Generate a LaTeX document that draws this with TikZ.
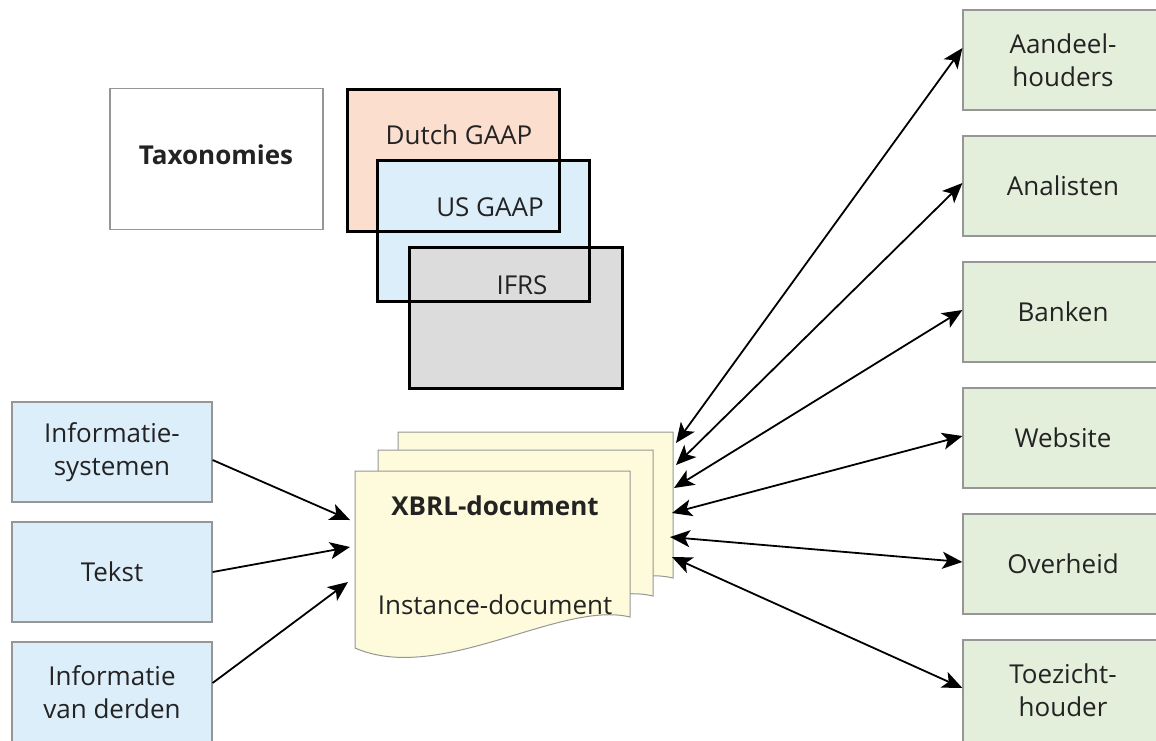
\documentclass[tikz,border=0pt]{standalone}
\usepackage{fontspec}
\setmainfont{Open Sans}
\usetikzlibrary{arrows.meta,calc}
\definecolor{gfill}{RGB}{227,238,219}
\definecolor{bfill}{RGB}{221,238,251}
\definecolor{pfill}{RGB}{252,222,206}
\definecolor{gryfill}{RGB}{220,220,220}
\definecolor{yfill}{RGB}{253,251,219}
\definecolor{bord}{RGB}{150,150,150}
\definecolor{txt}{RGB}{35,35,35}
\begin{document}
\begin{tikzpicture}[x=1pt,y=-1pt,
  lbl/.style={font=\fontsize{26}{33}\selectfont, align=center, text=txt},
  box/.style={lbl, draw=bord, line width=1.2pt, minimum width=200pt, minimum height=100pt, inner sep=0pt},
  gbox/.style={box, fill=gfill},
  bbox/.style={box, fill=bfill},
  taxfill/.style={minimum width=212pt, minimum height=141pt, inner sep=0pt},
  taxline/.style={line width=3pt, draw=black},
  page/.style={fill=yfill, draw=bord, line width=1pt},
  arr/.style={line width=1.8pt, -{Stealth[length=20pt,width=17pt,inset=5pt]}},
  darr/.style={line width=1.8pt, {Stealth[length=20pt,width=17pt,inset=5pt]}-{Stealth[length=20pt,width=17pt,inset=5pt]}},
]
\useasboundingbox (0,0) rectangle (1156,740);

% Taxonomies
\node[lbl, draw=bord, line width=1.2pt, fill=white, minimum width=213pt, minimum height=141pt, inner sep=0pt] (tax) at (216.5,159) {};
\node[lbl, font=\fontsize{26}{33}\selectfont\bfseries] (taxt) at (216,155) {Taxonomies};

\node[taxfill, fill=pfill] (dutch) at (453.5,160.5) {};
\node[taxfill, fill=bfill] (us) at (483.5,231) {};
\node[taxfill, fill=gryfill] (ifrs) at (516,318) {};
\draw[taxline] (dutch.north west) rectangle (dutch.south east);
\draw[taxline] (us.north west) rectangle (us.south east);
\draw[taxline] (ifrs.north west) rectangle (ifrs.south east);
\node[lbl] (dutcht) at (459,135) {Dutch GAAP};
\node[lbl] (ust) at (490,207) {US GAAP};
\node[lbl] (ifrst) at (522,285) {IFRS};

% document stack
\draw[page] (398,432) -- (673,432) -- (673,578) .. controls (603,561) and (483,646) .. (398,609) -- cycle;
\draw[page] (378,450) -- (653,450) -- (653,596) .. controls (583,579) and (463,664) .. (378,627) -- cycle;
\draw[page] (355,471) -- (630,471) -- (630,617) .. controls (560,600) and (440,685) .. (355,648) -- cycle;
\node[lbl, font=\fontsize{26}{33}\selectfont\bfseries, anchor=base] (xbrl) at (495,515) {XBRL-document};
\node[lbl, anchor=base] (inst) at (495,614) {Instance-document};

% inputs
\node[bbox] (lb1) at (112,452) {Informatie-\\systemen};
\node[bbox] (lb2) at (112,572) {Tekst};
\node[bbox, minimum height=110pt] (lb3) at (112,697) {};
\node[lbl] (lb3t) at (112,692) {Informatie\\van derden};

\coordinate (in1) at (350,520);
\coordinate (in2) at (350,547);
\coordinate (in3) at (348,582);
\draw[arr] ([yshift=-8pt]lb1.east) -- (in1);
\draw[arr] (lb2.east) -- (in2);
\draw[arr] ([yshift=14pt]lb3.east) -- (in3);

% outputs
\node[gbox] (r1) at (1063,60) {Aandeel-\\houders};
\node[gbox] (r2) at (1063,186) {Analisten};
\node[gbox] (r3) at (1063,312) {Banken};
\node[gbox] (r4) at (1063,438) {Website};
\node[gbox] (r5) at (1063,564) {Overheid};
\node[gbox, minimum height=110pt] (r6) at (1063,695) {};
\node[lbl] (r6t) at (1063,690) {Toezicht-\\houder};

\coordinate (d1) at (676,443);
\coordinate (d2) at (676,465);
\coordinate (d3) at (674,488);
\coordinate (d4) at (672,513);
\coordinate (d5) at (670,537);
\coordinate (d6) at (672,557);
\draw[darr] (d1) -- ([yshift=12pt]r1.west);
\draw[darr] (d2) -- ([yshift=3pt]r2.west);
\draw[darr] (d3) -- ([yshift=2pt]r3.west);
\draw[darr] (d4) -- ([yshift=2pt]r4.west);
\draw[darr] (d5) -- ([yshift=2pt]r5.west);
\draw[darr] (d6) -- ([yshift=7pt]r6.west);
\end{tikzpicture}
\end{document}
